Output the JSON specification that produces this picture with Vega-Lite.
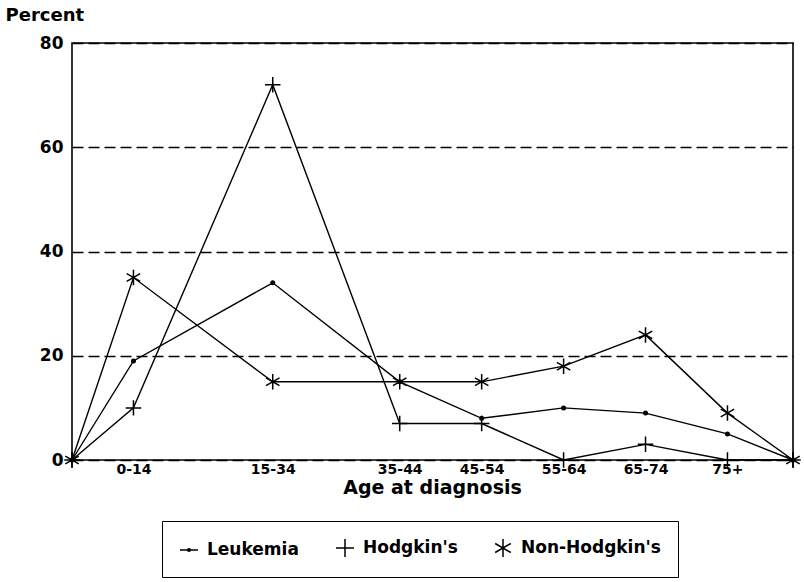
{
  "$schema": "https://vega.github.io/schema/vega-lite/v6.json",
  "width": 721,
  "height": 417,
  "autosize": "none",
  "padding": {"left": 72, "top": 43, "right": 11, "bottom": 122},
  "background": "white",
  "config": {
    "view": {"stroke": "black", "strokeWidth": 1.6},
    "font": "DejaVu Sans",
    "mark": {"color": "black"}
  },
  "data": {
    "values": [
      {"series": "Leukemia", "age": 0, "pct": 0},
      {"series": "Leukemia", "age": 7.5, "pct": 19},
      {"series": "Leukemia", "age": 24.5, "pct": 34},
      {"series": "Leukemia", "age": 40, "pct": 15},
      {"series": "Leukemia", "age": 50, "pct": 8},
      {"series": "Leukemia", "age": 60, "pct": 10},
      {"series": "Leukemia", "age": 70, "pct": 9},
      {"series": "Leukemia", "age": 80, "pct": 5},
      {"series": "Leukemia", "age": 88, "pct": 0},
      {"series": "Hodgkin's", "age": 0, "pct": 0},
      {"series": "Hodgkin's", "age": 7.5, "pct": 10},
      {"series": "Hodgkin's", "age": 24.5, "pct": 72},
      {"series": "Hodgkin's", "age": 40, "pct": 7},
      {"series": "Hodgkin's", "age": 50, "pct": 7},
      {"series": "Hodgkin's", "age": 60, "pct": 0},
      {"series": "Hodgkin's", "age": 70, "pct": 3},
      {"series": "Hodgkin's", "age": 80, "pct": 0},
      {"series": "Hodgkin's", "age": 88, "pct": 0},
      {"series": "Non-Hodgkin's", "age": 0, "pct": 0},
      {"series": "Non-Hodgkin's", "age": 7.5, "pct": 35},
      {"series": "Non-Hodgkin's", "age": 24.5, "pct": 15},
      {"series": "Non-Hodgkin's", "age": 40, "pct": 15},
      {"series": "Non-Hodgkin's", "age": 50, "pct": 15},
      {"series": "Non-Hodgkin's", "age": 60, "pct": 18},
      {"series": "Non-Hodgkin's", "age": 70, "pct": 24},
      {"series": "Non-Hodgkin's", "age": 80, "pct": 9},
      {"series": "Non-Hodgkin's", "age": 88, "pct": 0}
    ]
  },
  "encoding": {
    "x": {
      "field": "age",
      "type": "quantitative",
      "scale": {"domain": [0, 88], "nice": false, "zero": false},
      "axis": {
        "values": [7.5, 24.5, 40, 50, 60, 70, 80],
        "labelExpr": "datum.value == 7.5 ? '0-14' : datum.value == 24.5 ? '15-34' : datum.value == 40 ? '35-44' : datum.value == 50 ? '45-54' : datum.value == 60 ? '55-64' : datum.value == 70 ? '65-74' : '75+'",
        "domain": false,
        "ticks": false,
        "grid": false,
        "labelFont": "DejaVu Sans",
        "labelFontWeight": "bold",
        "labelFontSize": 14,
        "labelColor": "black",
        "labelPadding": 2,
        "labelBaseline": "top",
        "labelFlush": false,
        "labelOverlap": false,
        "title": "Age at diagnosis",
        "titleFont": "DejaVu Sans",
        "titleFontWeight": "bold",
        "titleFontSize": 19,
        "titleColor": "black",
        "titleBaseline": "alphabetic",
        "titleX": 360,
        "titleY": 33
      }
    },
    "y": {
      "field": "pct",
      "type": "quantitative",
      "scale": {"domain": [0, 80], "nice": false},
      "axis": {
        "values": [0, 20, 40, 60, 80],
        "domain": false,
        "ticks": false,
        "grid": true,
        "gridColor": "black",
        "gridDash": [11, 5],
        "gridWidth": 1.5,
        "gridOpacity": 1,
        "labelFont": "DejaVu Sans",
        "labelFontWeight": "bold",
        "labelFontSize": 17,
        "labelColor": "black",
        "labelPadding": 9,
        "title": "Percent",
        "titleFont": "DejaVu Sans",
        "titleFontWeight": "bold",
        "titleFontSize": 18,
        "titleColor": "black",
        "titleAngle": 0,
        "titleAlign": "left",
        "titleBaseline": "alphabetic",
        "titleX": -67,
        "titleY": -23
      }
    }
  },
  "layer": [
    {
      "mark": {"type": "line", "color": "black", "strokeWidth": 1.4},
      "encoding": {"detail": {"field": "series"}}
    },
    {
      "transform": [{"filter": "datum.series == 'Leukemia'"}],
      "mark": {"type": "point", "shape": "circle", "filled": true, "size": 25, "color": "black", "opacity": 1}
    },
    {
      "transform": [{"filter": "datum.series == \"Hodgkin's\""}],
      "mark": {"type": "point", "shape": "M-1,0L1,0M0,-1L0,1", "filled": false, "size": 240, "strokeWidth": 1.5, "color": "black", "opacity": 1}
    },
    {
      "transform": [{"filter": "datum.series == \"Non-Hodgkin's\""}],
      "mark": {"type": "point", "shape": "M0,-1L0,1M-0.87,-0.5L0.87,0.5M-0.87,0.5L0.87,-0.5", "filled": false, "size": 240, "strokeWidth": 1.5, "color": "black", "opacity": 1}
    },
    {
      "transform": [{"filter": "false"}],
      "mark": {"type": "point", "filled": false, "color": "black", "strokeWidth": 1.5, "opacity": 1},
      "encoding": {
        "shape": {
          "field": "series",
          "type": "nominal",
          "scale": {
            "domain": ["Leukemia", "Hodgkin's", "Non-Hodgkin's"],
            "range": [
              "M-1,0L1,0M-0.15,0A0.15,0.15,0,1,1,0.15,0A0.15,0.15,0,1,1,-0.15,0",
              "M-1,0L1,0M0,-1L0,1",
              "M0,-1L0,1M-0.87,-0.5L0.87,0.5M-0.87,0.5L0.87,-0.5"
            ]
          },
          "legend": {
            "title": null,
            "orient": "none",
            "direction": "horizontal",
            "legendX": 90,
            "legendY": 478,
            "strokeColor": "black",
            "padding": 17,
            "symbolSize": 324,
            "symbolStrokeWidth": 1.5,
            "symbolStrokeColor": "black",
            "labelFont": "DejaVu Sans",
            "labelFontWeight": "bold",
            "labelFontSize": 17,
            "labelColor": "black",
            "labelOffset": 8,
            "columnPadding": 34,
            "labelLimit": 300
          }
        }
      }
    }
  ]
}
